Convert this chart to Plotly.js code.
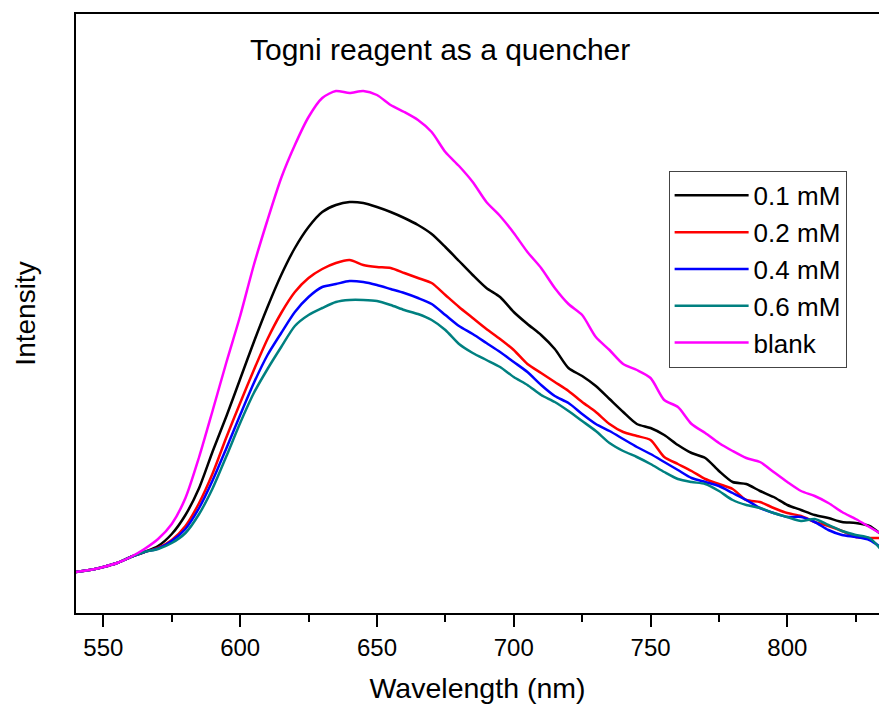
<!DOCTYPE html>
<html>
<head>
<meta charset="utf-8">
<script src="https://cdn.plot.ly/plotly-3.0.1.min.js"></script>
<style>html,body{margin:0;padding:0;background:#fff;}#chart{width:879px;height:704px;}</style>
</head>
<body>
<div id="chart"></div>
<script>
const wavelength = [540,545,550,555,560,565,570,575,580,585,590,595,600,605,610,615,620,625,630,635,640,645,650,655,660,665,670,675,680,685,690,695,700,705,710,715,720,725,730,735,740,745,750,755,760,765,770,775,780,785,790,795,800,805,810,815,820,825,830,835];
const c01 = [41,43,46,50,56,61,67,79,98,125,162,197,234,271,306,338,365,386,401,408,411,410,406,401,395,388,379,366,352,338,325,316,301,289,278,264,245,237,227,214,201,189,185,178,168,160,155,142,131,129,122,116,108,103,98,95,91,90,87,77];
const c02 = [41,43,46,50,56,61,65,73,87,110,140,176,210,243,274,300,321,335,344,350,353,348,346,345,340,335,330,318,306,295,284,274,263,249,240,231,222,211,201,189,181,177,173,156,149,142,134,129,124,113,111,105,100,97,91,87,82,76,75,75];
const c04 = [41,43,46,50,56,61,64.5,72,84,105,133,165,198,230,258,280,301,316,326,329,332,331,328,324,320,315,309,298,287,279,270,261,251,241,228,217,210,199,189,182,174,166,159,151,143,135,131,127,120,113,105,100,96,96,91,83,78,76,73,64];
const c06 = [41,43,46,50,56,61,64,70,80,99,125,157,190,220,244,266,287,298,305,311,313,313,312,308,303,299,293,283,269,260,253,246,236,228,218,211,202,192,182,170,162,156,149,141,134,131,129,122,113,108,105,100,96,92,94,88,82,78,75,61];
const blank = [41,43,46,50,56,64,74,89,115,156,203,251,297,348,393,435,468,496,515,522,520,522,518,508,501,493,481,461,447,431,411,397,380,361,345,325,309,298,276,263,249,243,235,213,206,189,180,170,162,155,151,141,131,122,117,110,101,94,86,78];

const names = ['0.1 mM','0.2 mM','0.4 mM','0.6 mM','blank'];
const series = [c01, c02, c04, c06, blank];
const colors = ['#000000','#ff0000','#0000ff','#008080','#ff00ff'];

const FONT = 'Liberation Sans, Arial, sans-serif';

const traces = series.map((s, i) => ({
  x: wavelength, y: s, name: names[i], type: 'scatter', mode: 'lines',
  line: {color: colors[i], width: 2.5, shape: 'spline', smoothing: 0.7}
}));

const layout = {
  width: 879, height: 704,
  margin: {l: 76, r: 0, t: 14, b: 91},
  paper_bgcolor: '#fff', plot_bgcolor: '#fff',
  font: {family: FONT, color: '#000'},
  showlegend: true,
  legend: {
    x: 0.738, y: 0.738, xanchor: 'left', yanchor: 'top',
    bgcolor: '#fff', bordercolor: '#444', borderwidth: 1,
    font: {family: FONT, size: 26, color: '#000'},
    itemwidth: 74, entrywidth: 104, entrywidthmode: 'pixels'
  },
  xaxis: {
    range: [540, 833.5], showgrid: false, zeroline: false,
    showline: true, linecolor: '#000', linewidth: 2, mirror: true,
    ticks: 'outside', ticklen: 12, tickwidth: 2, tickcolor: '#000',
    tick0: 550, dtick: 50,
    minor: {ticks: 'outside', ticklen: 7, tickwidth: 2, tickcolor: '#000', dtick: 25, tick0: 550, showgrid: false},
    tickfont: {family: FONT, size: 24, color: '#000'},
    title: {text: 'Wavelength (nm)', font: {family: FONT, size: 28.5, color: '#000'}, standoff: 18}
  },
  yaxis: {
    range: [0, 599], showgrid: false, zeroline: false,
    showline: true, linecolor: '#000', linewidth: 2, mirror: false,
    ticks: '', showticklabels: false,
    title: {text: 'Intensity', font: {family: FONT, size: 28, color: '#000'}, standoff: 30}
  },
  annotations: [{
    text: 'Togni reagent as a quencher', xref: 'paper', yref: 'paper',
    x: 0.453, y: 0.94, xanchor: 'center', yanchor: 'middle', showarrow: false,
    font: {family: FONT, size: 30, color: '#000'}
  }]
};

Plotly.newPlot('chart', traces, layout, {displayModeBar: false, staticPlot: true});
</script>
</body>
</html>
